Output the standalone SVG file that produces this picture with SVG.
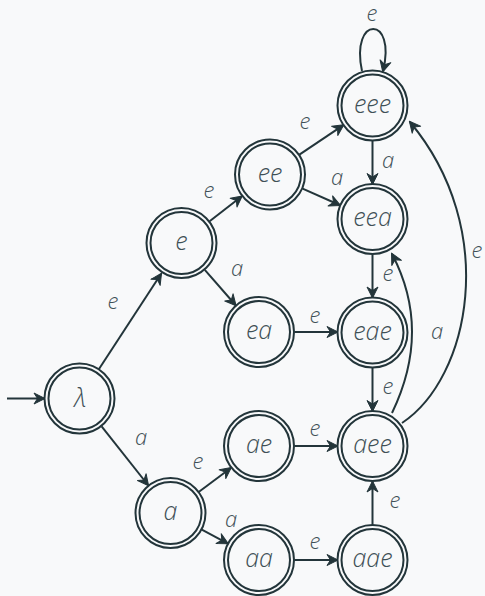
<svg xmlns="http://www.w3.org/2000/svg" width="485" height="596" viewBox="0 0 485 596">
  <style>
    .bg { fill: #f8f9fa; }
    .ring { fill: none; stroke: #23353a; stroke-width: 2; }
    .edge { fill: none; stroke: #23353a; stroke-width: 2; marker-end: url(#tip); }
    .name { font-family: "Open Sans", "Noto Sans", sans-serif; font-style: italic; font-weight: 300; font-size: 25px; fill: #3f5056; text-anchor: middle; }
    .lbl { font-family: "Open Sans", "Noto Sans", sans-serif; font-style: italic; font-weight: 300; font-size: 22px; fill: #3f5056; text-anchor: middle; }
  </style>
  <defs>
    <marker id="tip" viewBox="-12 -7 14 14" refX="0" refY="0" markerWidth="14" markerHeight="14" markerUnits="userSpaceOnUse" orient="auto">
      <path d="M1,0 L-10,-5.5 L-6.5,0 L-10,5.5 Z" fill="#23353a" stroke="#23353a" stroke-width="1" stroke-linejoin="round"/>
    </marker>
    <g id="acc">
      <circle r="35" class="ring"/>
      <circle r="31" class="ring"/>
    </g>
  </defs>

  <rect class="bg" x="0" y="0" width="485" height="596"/>

  <!-- transitions -->
  <g id="edges">
    <path class="edge" d="M7,398.5 L44,398.5"/>
    <path class="edge" d="M99,369 L161,274"/>
    <path class="edge" d="M101.6,426.3 L148,485"/>
    <path class="edge" d="M209.6,221.3 L241.5,196.5"/>
    <path class="edge" d="M204.8,269.8 L235.5,305"/>
    <path class="edge" d="M299.4,154.7 L343,125.3"/>
    <path class="edge" d="M302.6,188.6 L339.5,205"/>
    <path class="edge" d="M294.5,332 L337,332"/>
    <path class="edge" d="M372.5,141 L372.5,183.5"/>
    <path class="edge" d="M372.5,254.5 L372.5,297"/>
    <path class="edge" d="M372.5,368 L372.5,410.5"/>
    <path class="edge" d="M199,491.8 L230.5,468.2"/>
    <path class="edge" d="M201.8,529.6 L227.5,543.3"/>
    <path class="edge" d="M294.5,446 L337,446"/>
    <path class="edge" d="M294.5,560 L337,560"/>
    <path class="edge" d="M372.5,524.5 L372.5,482"/>
    <path class="edge" d="M362,71 C350,15 397,15 383,71"/>
    <path class="edge" d="M392,413 Q432,330 392,254"/>
    <path class="edge" d="M402,423 C470,378 500,230 410,122"/>

    <text class="lbl" x="113" y="309">e</text>
    <text class="lbl" x="141" y="445">a</text>
    <text class="lbl" x="209" y="198">e</text>
    <text class="lbl" x="237" y="276">a</text>
    <text class="lbl" x="305" y="129">e</text>
    <text class="lbl" x="337" y="185">a</text>
    <text class="lbl" x="315" y="323">e</text>
    <text class="lbl" x="388" y="168">a</text>
    <text class="lbl" x="388" y="281">e</text>
    <text class="lbl" x="388" y="394">e</text>
    <text class="lbl" x="198" y="469">e</text>
    <text class="lbl" x="231" y="527">a</text>
    <text class="lbl" x="315" y="436">e</text>
    <text class="lbl" x="315" y="549">e</text>
    <text class="lbl" x="395" y="508">e</text>
    <text class="lbl" x="372" y="21">e</text>
    <text class="lbl" x="437" y="339">a</text>
    <text class="lbl" x="477" y="258">e</text>
  </g>

  <!-- states -->
  <g id="s-lambda"><use href="#acc" x="79.5" y="398.5"/><text class="name" x="80" y="407">λ</text></g>
  <g id="s-e"><use href="#acc" x="181.5" y="243"/><text class="name" x="181.5" y="250">e</text></g>
  <g id="s-a"><use href="#acc" x="170.5" y="513"/><text class="name" x="170.5" y="520">a</text></g>
  <g id="s-ee"><use href="#acc" x="270" y="174.5"/><text class="name" x="270" y="181.5">ee</text></g>
  <g id="s-ea"><use href="#acc" x="259" y="332"/><text class="name" x="259" y="339">ea</text></g>
  <g id="s-ae"><use href="#acc" x="259" y="446"/><text class="name" x="259" y="453">ae</text></g>
  <g id="s-aa"><use href="#acc" x="259" y="560"/><text class="name" x="259" y="567">aa</text></g>
  <g id="s-eee"><use href="#acc" x="372.5" y="105.5"/><text class="name" x="372.5" y="112.5">eee</text></g>
  <g id="s-eea"><use href="#acc" x="372.5" y="219"/><text class="name" x="372.5" y="226">eea</text></g>
  <g id="s-eae"><use href="#acc" x="372.5" y="332.5"/><text class="name" x="372.5" y="339.5">eae</text></g>
  <g id="s-aee"><use href="#acc" x="372.5" y="446"/><text class="name" x="372.5" y="453">aee</text></g>
  <g id="s-aae"><use href="#acc" x="372.5" y="560"/><text class="name" x="372.5" y="567">aae</text></g>
</svg>
